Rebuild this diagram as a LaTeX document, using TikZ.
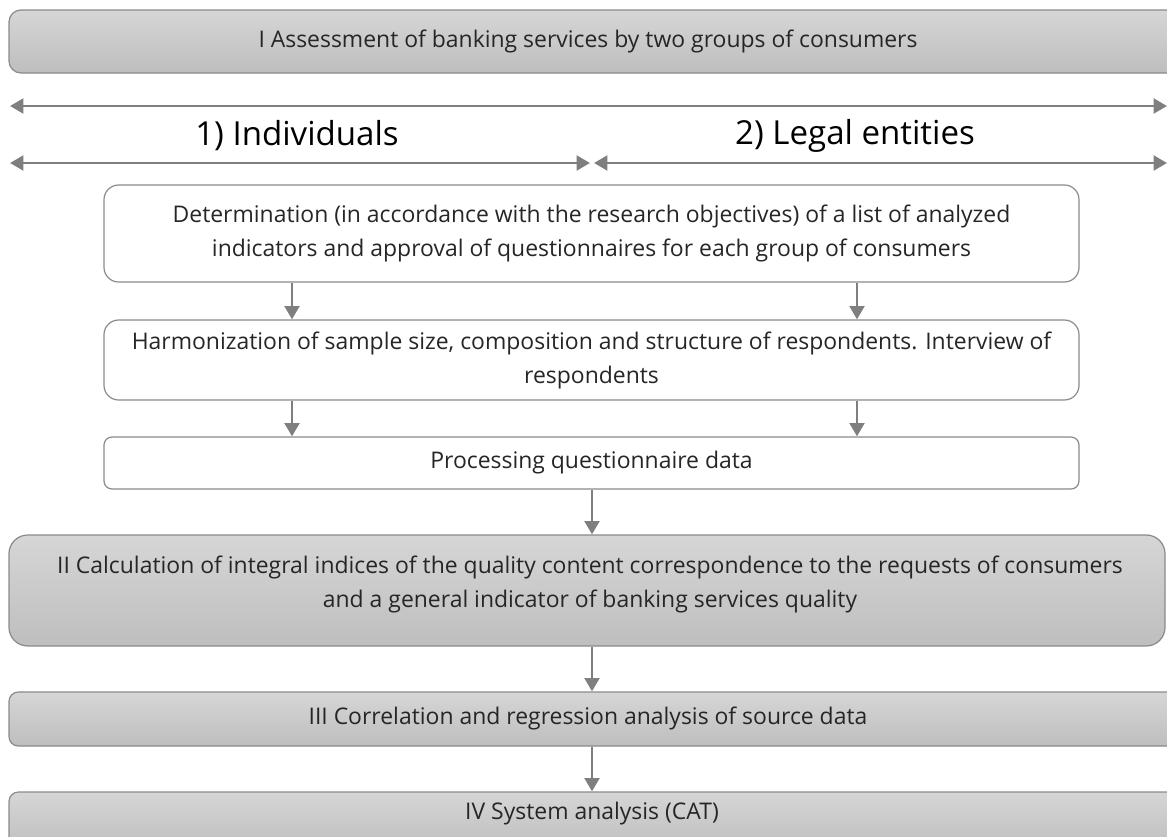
\documentclass[tikz,border=0pt]{standalone}
\usepackage{fontspec}
\setmainfont{Open Sans}
\usetikzlibrary{arrows.meta,calc}
\definecolor{txt}{HTML}{262626}
\definecolor{edge}{HTML}{8A8A8A}
\definecolor{arrc}{HTML}{7F7F7F}
\definecolor{gtop}{HTML}{D6D6D6}
\definecolor{gbot}{HTML}{BEBEBE}
\tikzset{
  every node/.style={text=txt},
  boxtext/.style={align=center, inner sep=0pt, font=\fontsize{17.2}{25.5}\selectfont},
  graybox/.style={draw=edge, line width=0.9pt, top color=gtop, bottom color=gbot, inner sep=0pt, rectangle},
  whitebox/.style={draw=edge, line width=0.9pt, fill=white, inner sep=0pt, rectangle, boxtext},
  arr/.style={draw=arrc, line width=2.2pt, -{Triangle[width=11pt,length=10pt]}},
  darr/.style={draw=arrc, line width=2.2pt, {Triangle[width=11pt,length=10pt]}-{Triangle[width=11pt,length=10pt]}},
  biglabel/.style={font=\fontsize{24.8}{28}\selectfont, text=black},
}
\begin{document}
\begin{tikzpicture}[x=0.75pt,y=-0.75pt]
\useasboundingbox (0,0) rectangle (1167,836);
% top box
\node[graybox, rounded corners=9pt, minimum width=878.25pt, minimum height=47.25pt] (b0) at (594.5,41.5) {};
\node[boxtext] (t0) at (588,41.5) {I Assessment of banking services by two groups of consumers};
% horizontal arrows
\coordinate (tl) at (10,106);
\coordinate (tr) at (1167,106);
\coordinate (bl) at (10,163);
\coordinate (bm1) at (590,163);
\coordinate (bm2) at (594,163);
\coordinate (br) at (1167,163);
\draw[darr] (tl) -- (tr);
\draw[darr] (bl) -- (bm1);
\draw[darr] (bm2) -- (br);
\node[biglabel] (ind) at (297,136) {1) Individuals};
\node[biglabel] (leg) at (855,136) {2) Legal entities};
% column coordinates
\coordinate (cL) at (292,0);
\coordinate (cR) at (857,0);
\coordinate (cM) at (592,0);
% white boxes
\node[whitebox, rounded corners=11pt, minimum width=731.25pt, minimum height=72.75pt] (b1) at (591.5,233.5) {Determination (in accordance with the research objectives) of a list of analyzed\\indicators and approval of questionnaires for each group of consumers};
\node[whitebox, rounded corners=11pt, minimum width=731.25pt, minimum height=60pt] (b2) at (591.5,360) {Harmonization of sample size, composition and structure of respondents. Interview of\\respondents};
\node[whitebox, rounded corners=6pt, minimum width=731.25pt, minimum height=39pt] (b3) at (591.5,463) {Processing questionnaire data};
\draw[arr] (b1.south -| cL) -- (b2.north -| cL);
\draw[arr] (b1.south -| cR) -- (b2.north -| cR);
\draw[arr] (b2.south -| cL) -- (b3.north -| cL);
\draw[arr] (b2.south -| cR) -- (b3.north -| cR);
% gray boxes
\node[graybox, rounded corners=14pt, minimum width=867pt, minimum height=83.25pt] (b4) at (587,590.5) {};
\node[boxtext] (t4) at (590,584) {II Calculation of integral indices of the quality content correspondence to the requests of consumers\\and a general indicator of banking services quality};
\node[graybox, rounded corners=7pt, minimum width=878.25pt, minimum height=40.5pt] (b5) at (594.5,719) {};
\node[boxtext] (t5) at (588,718) {III Correlation and regression analysis of source data};
\node[graybox, rounded corners=7pt, minimum width=878.25pt, minimum height=43.5pt] (b6) at (594.5,821) {};
\node[boxtext] (t6) at (592,814) {IV System analysis (CAT)};
\draw[arr] (b3.south -| cM) -- (b4.north -| cM);
\draw[arr] (b4.south -| cM) -- (b5.north -| cM);
\draw[arr] (b5.south -| cM) -- (b6.north -| cM);
\end{tikzpicture}
\end{document}
